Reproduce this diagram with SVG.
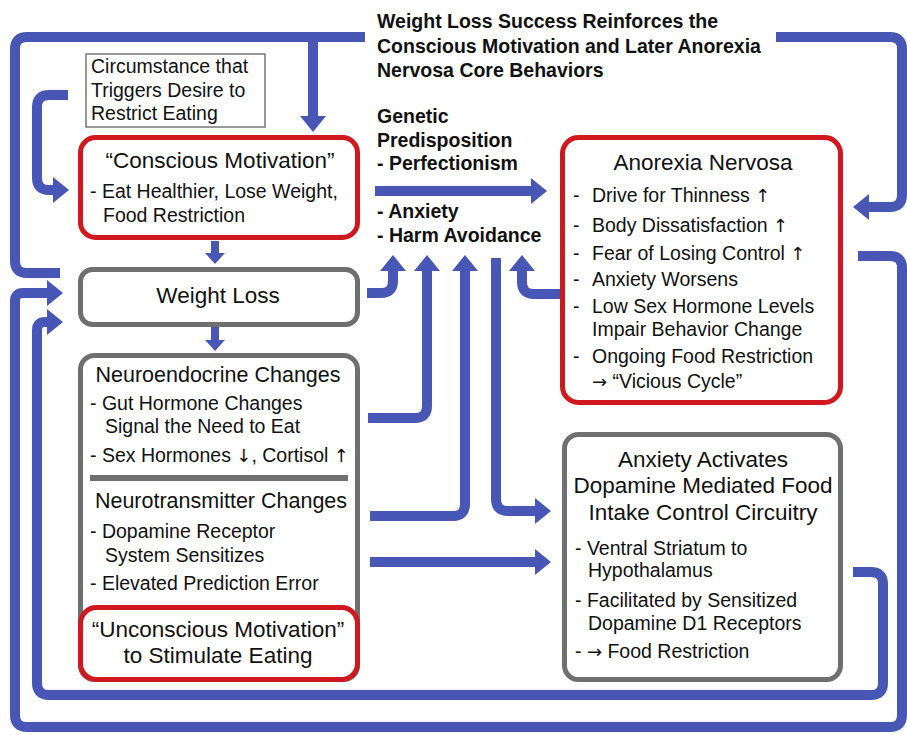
<svg xmlns="http://www.w3.org/2000/svg" width="907" height="735" viewBox="0 0 907 735">
<style>
.bl{fill:none;stroke:#4857b6;stroke-width:10}
.bs{fill:none;stroke:#4857b6;stroke-width:8}
.red{fill:#fff;stroke:#d0191f;stroke-width:5}
.gray{fill:#fff;stroke:#6f6f6f;stroke-width:5}
text{font-family:"Liberation Sans",Arial,sans-serif;fill:#111}
.ar{font-family:"DejaVu Sans",sans-serif;font-size:18px}
.t{font-size:22.5px;text-anchor:middle}
.t2{font-size:21.5px;text-anchor:middle}
.b{font-size:19.5px}
.h{font-size:19.5px;font-weight:bold}
</style>
<defs>
<marker id="ah" markerUnits="userSpaceOnUse" markerWidth="16" markerHeight="26" viewBox="0 0 16 26" refX="0" refY="13" orient="auto"><path d="M0,0 L16,13 L0,26 Z" fill="#4857b6"/></marker>
<marker id="as" markerUnits="userSpaceOnUse" markerWidth="11" markerHeight="20" viewBox="0 0 11 20" refX="0" refY="10" orient="auto"><path d="M0,0 L11,10 L0,20 Z" fill="#4857b6"/></marker>
</defs>
<rect width="907" height="735" fill="#fff"/>
<g id="connectors">
<path class="bl" d="M60,273 H27 Q15,273 15,261 V49 Q15,37 27,37 H365"/>
<path class="bl" d="M313,37 V116" marker-end="url(#ah)"/>
<path class="bl" d="M776,37 H890 Q902,37 902,49 V195 Q902,207 890,207 H869" marker-end="url(#ah)"/>
<path class="bl" d="M68,95 H49 Q37,95 37,107 V178 Q37,190 49,190 H53" marker-end="url(#ah)"/>
<path class="bs" d="M215,241 V253" marker-end="url(#as)"/>
<path class="bs" d="M215,327 V340" marker-end="url(#as)"/>
<path class="bl" d="M367,293 H381 Q393,293 393,281 V271" marker-end="url(#ah)"/>
<path class="bl" d="M368,418 H415 Q427,418 427,406 V271" marker-end="url(#ah)"/>
<path class="bl" d="M370,516 H453 Q465,516 465,504 V271" marker-end="url(#ah)"/>
<path class="bl" d="M496,258 V499 Q496,511 508,511 H535" marker-end="url(#ah)"/>
<path class="bl" d="M370,562 H535" marker-end="url(#ah)"/>
<path class="bl" d="M564,294 H534 Q522,294 522,282 V271" marker-end="url(#ah)"/>
<path class="bl" d="M375,191 H531" marker-end="url(#ah)"/>
<path class="bl" d="M853,572 H871 Q883,572 883,584 V683 Q883,695 871,695 H49 Q37,695 37,683 V330 Q37,322 45,322 H47" marker-end="url(#ah)"/>
<path class="bl" d="M858,256 H890 Q902,256 902,268 V715 Q902,727 890,727 H27 Q15,727 15,715 V301 Q15,293 23,293 H47" marker-end="url(#ah)"/>
</g>
<g id="title">
<text class="h" x="377" y="28">Weight Loss Success Reinforces the</text>
<text class="h" x="377" y="53">Conscious Motivation and Later Anorexia</text>
<text class="h" x="377" y="77">Nervosa Core Behaviors</text>
</g>
<g id="genetic">
<text class="h" x="377" y="123">Genetic</text>
<text class="h" x="377" y="147">Predisposition</text>
<text class="h" x="377" y="170">- Perfectionism</text>
<text class="h" x="377" y="218">- Anxiety</text>
<text class="h" x="377" y="242">- Harm Avoidance</text>
</g>
<g id="circumstance">
<rect x="86" y="54" width="179" height="73" fill="#fff" stroke="#777" stroke-width="1.5"/>
<text class="b" x="91" y="73">Circumstance that</text>
<text class="b" x="91" y="97">Triggers Desire to</text>
<text class="b" x="91" y="120">Restrict Eating</text>
</g>
<g id="conscious">
<rect class="red" x="80.5" y="137.5" width="277" height="100" rx="15"/>
<text class="t" x="220" y="168">“Conscious Motivation”</text>
<text class="b" x="90" y="198">- Eat Healthier, Lose Weight,</text>
<text class="b" x="103" y="222">Food Restriction</text>
</g>
<g id="weightloss">
<rect class="gray" x="80.5" y="269.5" width="277" height="55" rx="12"/>
<text class="t" x="218" y="303">Weight Loss</text>
</g>
<g id="changes">
<rect class="gray" x="80.5" y="355.5" width="277" height="324" rx="14"/>
<text class="t2" x="218" y="382">Neuroendocrine Changes</text>
<text class="b" x="90" y="410">- Gut Hormone Changes</text>
<text class="b" x="105" y="433">Signal the Need to Eat</text>
<text class="b" x="90" y="462">- Sex Hormones <tspan class="ar">↓</tspan>, Cortisol <tspan class="ar">↑</tspan></text>
<rect x="90" y="475" width="258" height="6" fill="#6f6f6f"/>
<text class="t2" x="221" y="508">Neurotransmitter Changes</text>
<text class="b" x="90" y="538">- Dopamine Receptor</text>
<text class="b" x="105" y="562">System Sensitizes</text>
<text class="b" x="90" y="590">- Elevated Prediction Error</text>
</g>
<g id="unconscious">
<rect class="red" x="80.5" y="607.5" width="277" height="72" rx="16"/>
<text class="t" x="218" y="637">“Unconscious Motivation”</text>
<text class="t" x="218" y="663">to Stimulate Eating</text>
</g>
<g id="anorexia">
<rect class="red" x="562.5" y="137.5" width="278" height="265" rx="16"/>
<text class="t" x="703" y="170">Anorexia Nervosa</text>
<text class="b" y="202"><tspan x="573">-</tspan><tspan x="592">Drive for Thinness </tspan><tspan class="ar">↑</tspan></text>
<text class="b" y="232"><tspan x="573">-</tspan><tspan x="592">Body Dissatisfaction </tspan><tspan class="ar">↑</tspan></text>
<text class="b" y="260"><tspan x="573">-</tspan><tspan x="592">Fear of Losing Control </tspan><tspan class="ar">↑</tspan></text>
<text class="b" y="286"><tspan x="573">-</tspan><tspan x="592">Anxiety Worsens</tspan></text>
<text class="b" y="313"><tspan x="573">-</tspan><tspan x="592">Low Sex Hormone Levels</tspan></text>
<text class="b" x="592" y="336">Impair Behavior Change</text>
<text class="b" y="363"><tspan x="573">-</tspan><tspan x="592">Ongoing Food Restriction</tspan></text>
<text class="b" x="592" y="388"><tspan class="ar">→</tspan> “Vicious Cycle”</text>
</g>
<g id="anxiety">
<rect class="gray" x="564.5" y="434.5" width="276" height="245" rx="14"/>
<text class="t" x="703" y="467">Anxiety Activates</text>
<text class="t" x="703" y="493">Dopamine Mediated Food</text>
<text class="t" x="703" y="520">Intake Control Circuitry</text>
<text class="b" x="575" y="555">- Ventral Striatum to</text>
<text class="b" x="588" y="577">Hypothalamus</text>
<text class="b" x="575" y="607">- Facilitated by Sensitized</text>
<text class="b" x="588" y="630">Dopamine D1 Receptors</text>
<text class="b" x="575" y="658">- <tspan class="ar">→</tspan> Food Restriction</text>
</g>
</svg>
